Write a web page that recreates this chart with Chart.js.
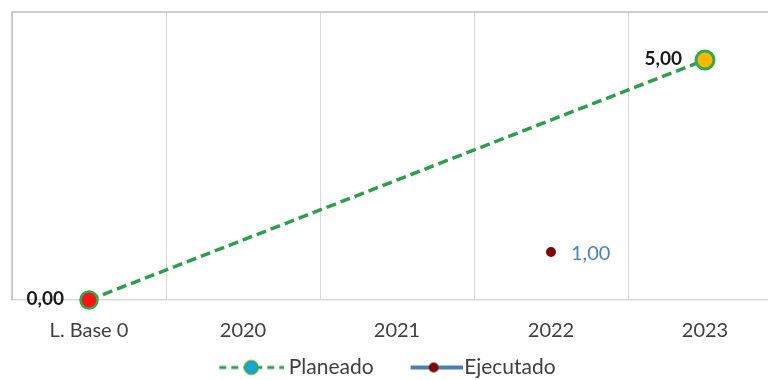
<!DOCTYPE html>
<html>
<head>
<meta charset="utf-8">
<script src="https://cdn.jsdelivr.net/npm/chart.js@4.4.1/dist/chart.umd.min.js"></script>
<style>
html,body{margin:0;padding:0;background:#fff;overflow:hidden;width:768px;height:380px;}
#wrap{width:800px;height:380px;position:relative;}
</style>
</head>
<body>
<div id="wrap"><canvas id="c" width="800" height="380"></canvas></div>
<script>
const categories = ['L. Base 0', '2020', '2021', '2022', '2023'];
const planeado = [0, null, null, null, 5];
const ejecutado = [null, null, null, 1, null];
const seriesNames = ['Planeado', 'Ejecutado'];

const GREEN = '#2e9e4e';
const FONT = 'Lato, "Open Sans", sans-serif';

function legendImg(kind) {
  const cv = document.createElement('canvas');
  if (kind === 0) {
    cv.width = 76; cv.height = 18;
    const c = cv.getContext('2d');
    c.strokeStyle = GREEN; c.lineWidth = 3; c.setLineDash([7, 5]);
    c.beginPath(); c.moveTo(11, 9); c.lineTo(76, 9); c.stroke();
    c.setLineDash([]);
    c.beginPath(); c.arc(43, 9, 6.5, 0, Math.PI * 2);
    c.fillStyle = '#1aa6dc'; c.fill();
    c.lineWidth = 2; c.strokeStyle = '#33a852'; c.stroke();
  } else {
    cv.width = 82; cv.height = 18;
    const c = cv.getContext('2d');
    c.strokeStyle = '#4a7fb5'; c.lineWidth = 4;
    c.beginPath(); c.moveTo(30, 9); c.lineTo(82, 9); c.stroke();
    c.beginPath(); c.arc(53, 9, 5, 0, Math.PI * 2);
    c.fillStyle = '#7a0a0a'; c.fill();
  }
  return cv;
}

const fmt = v => v.toFixed(2).replace('.', ',');

const frame = {
  id: 'frame',
  beforeDatasetsDraw(chart) {
    const {ctx, chartArea: a} = chart;
    ctx.save();
    ctx.strokeStyle = '#bfbfbf'; ctx.lineWidth = 1.5;
    ctx.beginPath();
    ctx.moveTo(a.left, a.bottom); ctx.lineTo(a.left, a.top); ctx.lineTo(a.right, a.top);
    ctx.stroke();
    ctx.restore();
  }
};

const labels = {
  id: 'valueLabels',
  afterDatasetsDraw(chart) {
    const ctx = chart.ctx;
    ctx.save();
    ctx.textBaseline = 'middle';
    chart.data.datasets.forEach((ds, di) => {
      const meta = chart.getDatasetMeta(di);
      meta.data.forEach((pt, i) => {
        const v = ds.data[i];
        if (v === null || v === undefined) return;
        if (di === 0) {
          ctx.font = 'bold 19px ' + FONT;
          ctx.fillStyle = '#1a1a1a';
          ctx.textAlign = 'right';
          ctx.fillText(fmt(v), pt.x - (i === 0 ? 25 : 23), pt.y - 1);
        } else {
          ctx.font = '20px ' + FONT;
          ctx.fillStyle = '#4a86b8';
          ctx.textAlign = 'left';
          ctx.fillText(fmt(v), pt.x + 20, pt.y + 2);
        }
      });
    });
    ctx.restore();
  }
};

new Chart(document.getElementById('c'), {
  type: 'line',
  data: {
    labels: categories,
    datasets: [
      {
        label: seriesNames[0],
        data: planeado,
        spanGaps: true,
        clip: false,
        borderColor: GREEN,
        borderWidth: 3.5,
        borderDash: [10, 5],
        pointRadius: [8.5, 9, 9, 9, 9],
        pointBorderWidth: [2.5, 3.5, 3.5, 3.5, 3],
        pointBorderColor: '#33a852',
        pointBackgroundColor: ['#ff1414', '#1aa6dc', '#1aa6dc', '#1aa6dc', '#ffb800'],
        tension: 0
      },
      {
        label: seriesNames[1],
        data: ejecutado,
        clip: false,
        borderColor: '#4a7fb5',
        borderWidth: 4,
        pointRadius: 5,
        pointBorderWidth: 0,
        pointBackgroundColor: '#7a0a0a'
      }
    ]
  },
  options: {
    responsive: false,
    animation: false,
    layout: {padding: {left: -12, right: 18, top: 11, bottom: -8}},
    scales: {
      x: {
        offset: true,
        grid: {offset: true, color: '#d9d9d9', lineWidth: 1, drawTicks: false},
        border: {color: '#d9d9d9', width: 1.5},
        ticks: {color: '#404040', font: {family: FONT, size: 20}, padding: 19},
        afterFit(s) { s.height = 41; }
      },
      y: {
        min: 0, max: 6,
        ticks: {display: false},
        grid: {display: false},
        border: {display: false},
        afterFit(s) { s.width = 23; }
      }
    },
    plugins: {
      tooltip: {enabled: false},
      legend: {
        position: 'bottom',
        labels: {
          usePointStyle: true,
          pointStyleWidth: 64,
          boxHeight: 16,
          padding: 16,
          color: '#404040',
          font: {family: FONT, size: 21},
          generateLabels(chart) {
            return chart.data.datasets.map((ds, i) => ({
              text: ds.label,
              pointStyle: legendImg(i),
              fillStyle: 'transparent',
              strokeStyle: 'transparent',
              lineWidth: 0,
              fontColor: '#404040',
              datasetIndex: i,
              hidden: false
            }));
          }
        }
      }
    }
  },
  plugins: [frame, labels]
});
</script>
</body>
</html>
